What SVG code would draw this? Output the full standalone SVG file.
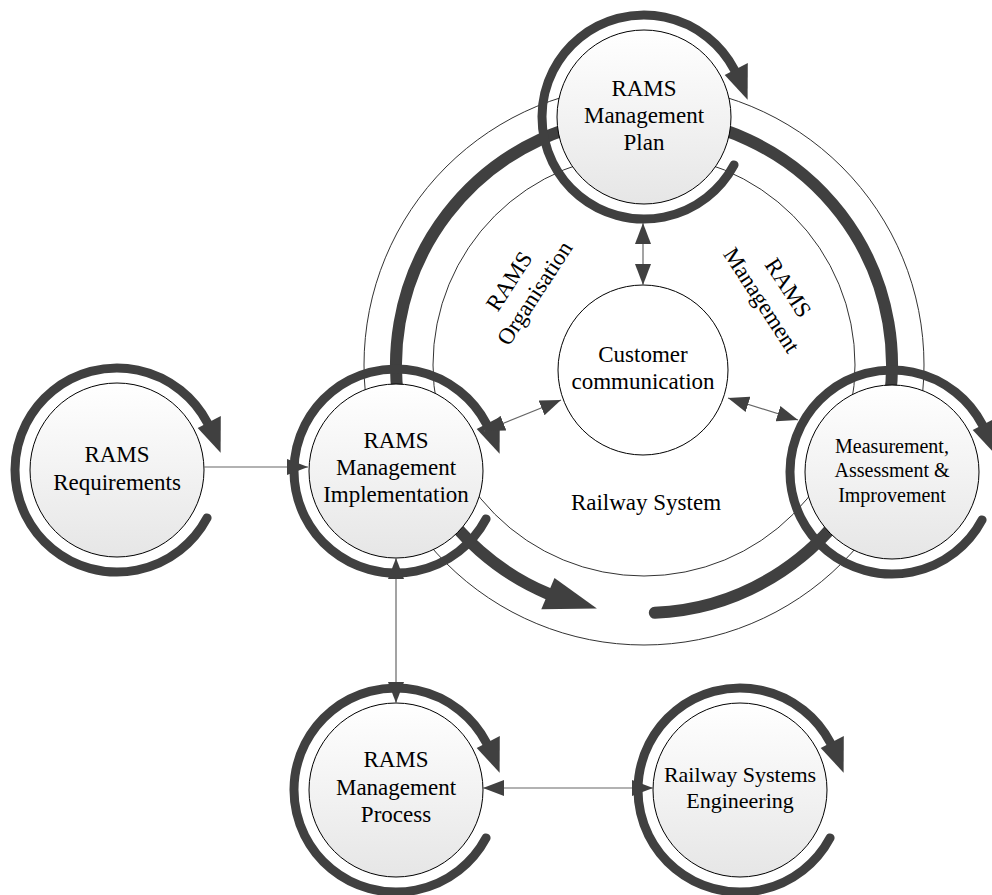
<svg xmlns="http://www.w3.org/2000/svg" xmlns:xlink="http://www.w3.org/1999/xlink" width="992" height="895" viewBox="0 0 992 895">
<style>
.node{stroke:#000;stroke-width:1;fill:url(#nodefill)}
.ringline{fill:none;stroke:#404040;stroke-width:9;stroke-linecap:round}
.ringhead{fill:#404040}
.thin{fill:none;stroke:#333;stroke-width:1}
.thick{fill:none;stroke:#404040;stroke-width:12;stroke-linecap:round}
.conn{fill:none;stroke:#666;stroke-width:1.2}
text{font-family:"Liberation Serif","Times New Roman",serif;fill:#000;text-anchor:middle}
.t23{font-size:23px}
.t20{font-size:20px}
.t22{font-size:22px}
</style>
<defs>
<linearGradient id="nodefill" x1="0" y1="0" x2="0" y2="1">
<stop offset="0" stop-color="#ffffff"/>
<stop offset="1" stop-color="#e6e6e6"/>
</linearGradient>
<g id="ring">
<path class="ringline" d="M90.06 47.89 A102 102 0 1 1 90.47 -47.09"/>
<polygon class="ringhead" points="80.7,-42 103.8,-54 103.6,-17.3"/>
</g>
<marker id="ah" markerUnits="userSpaceOnUse" markerWidth="21" markerHeight="16" viewBox="0 0 21 16" refX="21" refY="8" orient="auto-start-reverse">
<path d="M0,0 L21,8 L0,16 z" fill="#404040"/>
</marker>
</defs>
<rect width="992" height="895" fill="#fff"/>

<g id="railway-system">
<circle class="thin" cx="644" cy="365" r="280"/>
<circle class="thin" cx="644" cy="365" r="211"/>
<text class="t23" x="646" y="510">Railway System</text>
</g>

<g id="cycle">
<path class="thick" d="M404.5 429.2 A248 248 0 1 1 883.5 429.2"/>
<path class="thick" d="M429.2 489 A248 248 0 0 0 547.9 593.6"/>
<polygon fill="#404040" points="554.5,578 541.3,609.3 596.9,608.5"/>
<path class="thick" d="M654.8 612.8 A248 248 0 0 0 868.8 469.8"/>
</g>

<g id="labels">
<g transform="translate(521.5 287) rotate(-57)">
<text class="t23" x="-2" y="-6">RAMS</text>
<text class="t23" x="2" y="22">Organisation</text>
</g>
<g transform="translate(774 294.5) rotate(57)">
<text class="t23" x="2" y="-8">RAMS</text>
<text class="t23" x="-2" y="21">Management</text>
</g>
</g>

<g id="node-plan">
<use xlink:href="#ring" href="#ring" x="644" y="117"/>
<circle class="node" cx="644" cy="117" r="87"/>
<text class="t23" x="644" y="96">RAMS</text>
<text class="t23" x="644" y="123">Management</text>
<text class="t23" x="644" y="150">Plan</text>
</g>

<g id="node-requirements">
<use xlink:href="#ring" href="#ring" x="117" y="470"/>
<circle class="node" cx="117" cy="470" r="87"/>
<text class="t23" x="117" y="462">RAMS</text>
<text class="t23" x="117" y="490">Requirements</text>
</g>

<g id="node-implementation">
<use xlink:href="#ring" href="#ring" x="396" y="471"/>
<circle class="node" cx="396" cy="471" r="87"/>
<text class="t23" x="396" y="448">RAMS</text>
<text class="t23" x="396" y="475">Management</text>
<text class="t23" x="396" y="502">Implementation</text>
</g>

<g id="node-measurement">
<use xlink:href="#ring" href="#ring" x="892" y="472"/>
<circle class="node" cx="892" cy="472" r="87"/>
<text class="t20" x="892" y="453">Measurement,</text>
<text class="t20" x="892" y="477">Assessment &amp;</text>
<text class="t20" x="892" y="502">Improvement</text>
</g>

<g id="node-customer">
<circle cx="643" cy="370" r="85" fill="#fff" stroke="#000" stroke-width="1"/>
<text class="t23" x="643" y="362">Customer</text>
<text class="t23" x="643" y="389">communication</text>
</g>

<g id="node-process">
<use xlink:href="#ring" href="#ring" x="396" y="790"/>
<circle class="node" cx="396" cy="790" r="87"/>
<text class="t23" x="396" y="767">RAMS</text>
<text class="t23" x="396" y="795">Management</text>
<text class="t23" x="396" y="822">Process</text>
</g>

<g id="node-rse">
<use xlink:href="#ring" href="#ring" x="740" y="790"/>
<circle class="node" cx="740" cy="790" r="87"/>
<text class="t22" x="740" y="782">Railway Systems</text>
<text class="t22" x="740" y="808">Engineering</text>
</g>

<g id="connectors">
<line class="conn" x1="643" y1="223" x2="643" y2="285" marker-start="url(#ah)" marker-end="url(#ah)"/>
<line class="conn" x1="484" y1="431" x2="561" y2="400" marker-start="url(#ah)" marker-end="url(#ah)"/>
<line class="conn" x1="728" y1="398" x2="798" y2="420" marker-start="url(#ah)" marker-end="url(#ah)"/>
<line class="conn" x1="204" y1="467" x2="308" y2="467" marker-end="url(#ah)"/>
<line class="conn" x1="396" y1="558" x2="396" y2="703" marker-start="url(#ah)" marker-end="url(#ah)"/>
<line class="conn" x1="483" y1="788" x2="653" y2="788" marker-start="url(#ah)" marker-end="url(#ah)"/>
</g>
</svg>
